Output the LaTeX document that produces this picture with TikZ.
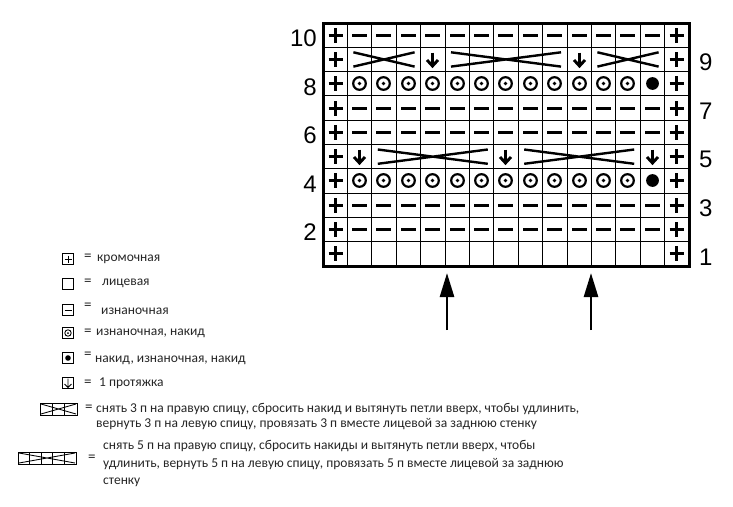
\documentclass[tikz,border=0pt]{standalone}
\usepackage{fontspec}
\setmainfont{Liberation Sans}
\newfontfamily\legendfont{Carlito}
\usetikzlibrary{arrows.meta}
\tikzset{
  sym/.style={line width=2.9pt},
  crossline/.style={line width=2.4pt},
  gridline/.style={line width=0.9pt},
  border/.style={line width=3pt},
  rowlabel/.style={font=\fontsize{24}{24}\selectfont, inner sep=0pt},
  legtext/.style={font=\legendfont\fontsize{13.5}{15}\selectfont, inner sep=0pt, text=black!85, anchor=west},
  legeq/.style={font=\legendfont\fontsize{15}{15}\selectfont, inner sep=0pt, text=black!85, anchor=west},
  legbox/.style={draw, line width=1pt, inner sep=0pt},
  legmark/.style={line width=0.85pt},
  bigarrow/.style={line width=2.6pt, -{Triangle[length=24pt,width=14pt]}},
  plusmark/.pic={\draw[sym] (-7,0)--(7,0) (0,-7.5)--(0,7.5);},
  minusmark/.pic={\draw[sym] (-7.5,0)--(7.5,0);},
  ringmark/.pic={\draw[line width=2.2pt] (0,0) circle (6.3); \fill (0,0) circle (1.8);},
  dotmark/.pic={\fill (0,0) circle (6.4);},
  pullmark/.pic={\draw[sym] (0,-7)--(0,6.5); \draw[sym, line join=miter] (-5.5,0.5)--(0,6.5)--(5.5,0.5);},
}
\newcommand\putpic[3]{\path ({floor(323+(#1-0.5)*24.4)+0.5},{floor(23+(10.5-#2)*24.3)+0.5}) pic {#3};}
\newcommand\kcross[3]{\draw[crossline] ({323+(#1-1)*24.4+6},{23+(10-#3)*24.3+5}) -- ({323+#2*24.4-6},{23+(11-#3)*24.3-5}) ({323+(#1-1)*24.4+6},{23+(11-#3)*24.3-5}) -- ({323+#2*24.4-6},{23+(10-#3)*24.3+5});}
\begin{document}
\begin{tikzpicture}[x=1pt,y=-1pt]
\useasboundingbox[fill=white] (0,0) rectangle (733,506);
% grid
\foreach \c in {1,...,14} \draw[gridline] ({323+\c*24.4},23) -- ({323+\c*24.4},266);
\foreach \r in {1,...,9} \draw[gridline] (323,{23+\r*24.3}) -- (689,{23+\r*24.3});
\draw[border] (323,23) rectangle (689,266);
% symbols
\foreach \r in {1,...,10} {\putpic{1}{\r}{plusmark} \putpic{15}{\r}{plusmark}}
\foreach \r in {2,3,6,7,10} {\foreach \c in {2,...,14} {\putpic{\c}{\r}{minusmark}}}
\foreach \r in {4,8} {\foreach \c in {2,...,13} {\putpic{\c}{\r}{ringmark}} \putpic{14}{\r}{dotmark}}
\putpic{5}{9}{pullmark} \putpic{11}{9}{pullmark}
\kcross{2}{4}{9} \kcross{6}{10}{9} \kcross{12}{14}{9}
\putpic{2}{5}{pullmark} \putpic{8}{5}{pullmark} \putpic{14}{5}{pullmark}
\kcross{3}{7}{5} \kcross{9}{13}{5}
% row labels
\foreach \r in {2,4,6,8,10} \node[rowlabel, anchor=east] (lab\r) at (317,{23+(10.5-\r)*24.3+3}) {\r};
\foreach \r in {1,3,5,7,9} \node[rowlabel, anchor=west] (lab\r) at (699,{23+(10.5-\r)*24.3+3}) {\r};
% arrows
\coordinate (a1s) at (447,330); \coordinate (a1e) at (447,273);
\coordinate (a2s) at (591,330); \coordinate (a2e) at (591,273);
\draw[bigarrow] (a1s) -- (a1e);
\draw[bigarrow] (a2s) -- (a2e);
% legend
\node[legbox, minimum size=10.5pt] (k1) at (68,259) {};
\draw[legmark] (64.5,259)--(71.5,259) (68,255.5)--(68,262.5);
\node[legeq] (e1) at (84,257) {=};
\node[legtext] (t1) at (97,259) {кромочная};
\node[legbox, minimum size=11.5pt] (k2) at (68,284) {};
\node[legeq] (e2) at (84,282) {=};
\node[legtext] (t2) at (102,283) {лицевая};
\node[legbox, minimum size=11pt] (k3) at (68,310) {};
\draw[legmark] (64.5,310)--(71.5,310);
\node[legeq] (e3) at (84,306) {=};
\node[legtext] (t3) at (101,311) {изнаночная};
\node[legbox, minimum size=11pt] (k4) at (68,333) {};
\draw[line width=0.9pt] (68,333) circle (3.2); \fill (68,333) circle (1);
\node[legeq] (e4) at (84,332) {=};
\node[legtext] (t4) at (96,333) {изнаночная, накид};
\node[legbox, minimum size=11pt] (k5) at (68,358) {};
\fill (68,358) circle (2.8);
\node[legeq] (e5) at (84,355) {=};
\node[legtext] (t5) at (95,360) {накид, изнаночная, накид};
\node[legbox, minimum size=11pt] (k6) at (68,383) {};
\draw[legmark] (68,378.5)--(68,387.5) (64.5,384)--(68,387.5)--(71.5,384);
\node[legeq] (e6) at (84,383) {=};
\node[legtext] (t6) at (99,383) {1 протяжка};
% 3-cross legend
\node[legbox, minimum width=37pt, minimum height=12pt] (k7) at (58.5,409) {};
\draw[legmark] (52.3,403)--(52.3,415) (64.7,403)--(64.7,415);
\draw[legmark] (41,404)--(76,414) (41,414)--(76,404);
\node[legeq] (e7) at (85,408) {=};
\node[legtext, align=left, font=\legendfont\fontsize{13.5}{15}\selectfont] (t7) at (96,416.5) {снять 3 п на правую спицу, сбросить накид и вытянуть петли вверх, чтобы удлинить,\\вернуть 3 п на левую спицу, провязать 3 п вместе лицевой за заднюю стенку};
% 5-cross legend
\node[legbox, minimum width=58pt, minimum height=12pt] (k8) at (47,458) {};
\foreach \i in {1,2,3,4} \draw[legmark] ({18+\i*11.6},452)--({18+\i*11.6},464);
\draw[legmark] (19,453)--(75,463) (19,463)--(75,453);
\node[legeq] (e8) at (88,458) {=};
\node[legtext, align=left, font=\legendfont\fontsize{13.5}{17.5}\selectfont] (t8) at (103,463.5) {снять 5 п на правую спицу, сбросить накиды и вытянуть петли вверх, чтобы\\удлинить, вернуть 5 п на левую спицу, провязать 5 п вместе лицевой за заднюю\\стенку};
\end{tikzpicture}
\end{document}
